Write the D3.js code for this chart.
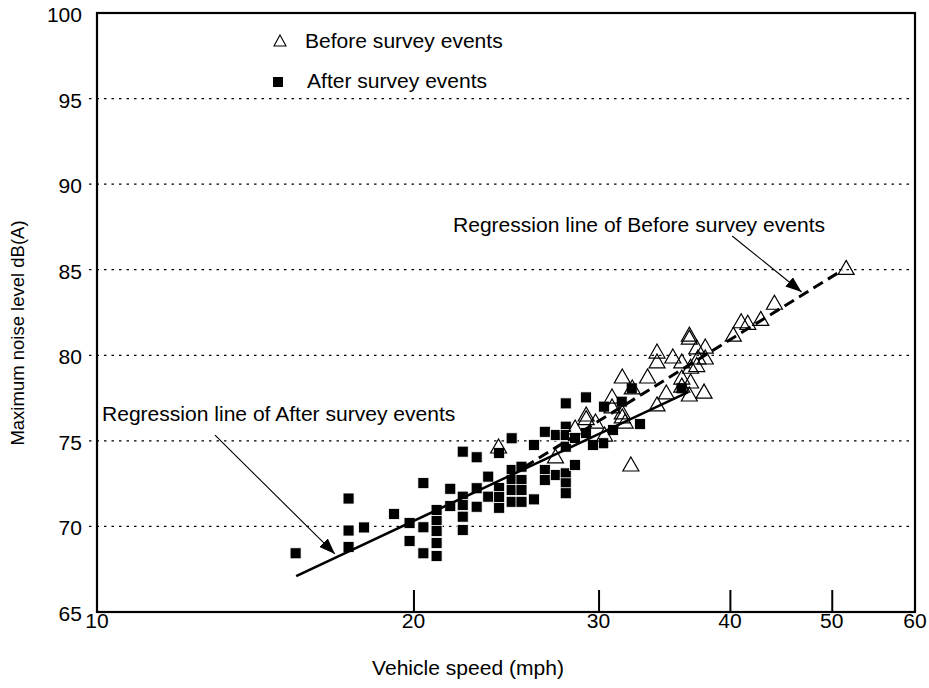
<!DOCTYPE html>
<html><head><meta charset="utf-8">
<script src="https://cdn.jsdelivr.net/npm/d3@7"></script>
<style>body{margin:0;background:#fff}svg{display:block}</style>
</head><body><svg id="c" width="929" height="688"></svg>
<script>
// ---- data ----
const xTicks = [10, 20, 30, 40, 50, 60];
const yTicks = [65, 70, 75, 80, 85, 90, 95, 100];
const gridLevels = [70, 75, 80, 85, 90, 95];

const beforeSpeed = [24.1, 32.2, 27.3, 29.2, 29.2, 29.8, 28.5, 30.4, 30.9, 30.9, 31.6, 31.6, 31.8, 31.6, 32.3, 33.4, 34.1, 34.1, 35.3, 34.8, 34.1, 36.0, 36.0, 36.6, 36.6, 37.2, 37.9, 37.3, 37.9, 36.7, 37.2, 36.7, 36.6, 37.8, 40.3, 41.0, 41.6, 42.8, 44.1, 51.6, 36.0];
const beforeLevel = [74.64, 73.59, 74.06, 76.51, 76.3, 76.1, 75.75, 75.34, 77.56, 76.98, 76.63, 76.4, 76.1, 78.73, 78.09, 78.73, 80.19, 79.61, 79.9, 77.8, 77.1, 79.61, 78.67, 81.18, 81.0, 80.43, 80.48, 79.84, 79.84, 79.3, 79.4, 78.44, 77.68, 77.85, 81.18, 81.96, 81.87, 82.1, 83.04, 85.08, 78.2];

const afterSpeed = [15.45, 17.35, 17.35, 17.35, 17.95, 19.17, 19.83, 19.83, 20.44, 20.44, 20.44, 21.04, 21.04, 21.04, 21.04, 21.04, 21.68, 21.68, 22.28, 22.97, 22.28, 22.28, 22.28, 22.28, 22.97, 22.97, 23.56, 23.56, 24.13, 24.13, 24.13, 24.13, 24.8, 24.8, 24.8, 24.8, 24.8, 25.34, 25.34, 25.34, 25.34, 26.04, 26.04, 26.67, 26.67, 26.67, 27.32, 27.32, 27.92, 27.92, 27.92, 27.92, 27.92, 27.92, 27.92, 28.49, 28.49, 29.18, 29.18, 30.36, 30.96, 31.56, 32.85, 30.31, 32.26, 35.98, 29.63];
const afterLevel = [68.43, 71.63, 69.76, 68.8, 69.94, 70.73, 70.2, 69.15, 72.53, 69.95, 68.43, 70.96, 70.32, 69.73, 69.03, 68.27, 72.2, 71.19, 74.37, 74.04, 71.74, 71.25, 70.57, 69.79, 72.23, 71.15, 72.91, 71.74, 71.09, 72.24, 71.72, 74.29, 75.15, 73.3, 72.71, 72.13, 71.44, 73.49, 72.71, 72.13, 71.44, 74.76, 71.58, 75.53, 73.3, 72.71, 75.34, 73.0, 77.19, 75.83, 75.34, 74.66, 73.1, 72.52, 71.94, 73.59, 75.17, 77.54, 75.46, 77.0, 75.63, 77.29, 75.98, 74.86, 78.07, 78.07, 74.76];

const beforeRegSpeed = [25.5, 51.2];
const beforeRegLevel = [73.47, 84.98];
const afterRegSpeed = [15.47, 36.5];
const afterRegLevel = [67.1, 77.85];

// annotation arrows [from, to] in data units
const beforeArrowSpeed = [40.2, 46.8];
const beforeArrowLevel = [86.97, 83.7];
const afterArrowSpeed = [12.95, 16.84];
const afterArrowLevel = [75.34, 68.39];

const labels = {
  legendBefore: "Before survey events",
  legendAfter: "After survey events",
  regBefore: "Regression line of Before survey events",
  regAfter: "Regression line of After survey events",
  xTitle: "Vehicle speed (mph)",
  yTitle: "Maximum noise level dB(A)"
};

// ---- drawing ----
const FONT = "'Liberation Sans', Arial, sans-serif";
const FS = 19.5, SX = 1.08;
const svg = d3.select("#c");
const L = 97, R = 915, T = 13, B = 612;
const x = d3.scaleLog().domain([10, 60]).range([L, R]);
const y = d3.scaleLinear().domain([65, 100]).range([B, T]);

svg.append("rect").attr("width", 929).attr("height", 688).attr("fill", "#fff");

const txt = (tx, ty, s, anchor = "start") => svg.append("text")
  .attr("transform", `translate(${tx},${ty}) scale(${SX},1)`)
  .attr("font-family", FONT).attr("font-size", FS).attr("text-anchor", anchor)
  .attr("fill", "#000").text(s);

// gridlines (dotted)
svg.append("g").selectAll("line").data(gridLevels).join("line")
  .attr("x1", L - 8).attr("x2", R)
  .attr("y1", d => y(d)).attr("y2", d => y(d))
  .attr("stroke", "#000").attr("stroke-width", 1.2)
  .attr("stroke-dasharray", "2.5,5");

// y tick labels
yTicks.forEach(v => txt(82, y(v) + 9, v, "end"));

// x axis: inward ticks + labels
const xAxis = d3.axisTop(x).tickValues(xTicks.filter(d => d > 10 && d < 60)).tickSize(22).tickFormat("");
const gx = svg.append("g").attr("transform", `translate(0,${B})`).call(xAxis);
gx.select(".domain").remove();
gx.selectAll("line").attr("stroke", "#000").attr("stroke-width", 2);
xTicks.forEach(v => txt(x(v), B + 16, v, "middle"));

// frame
svg.append("rect").attr("x", L).attr("y", T).attr("width", R - L).attr("height", B - T)
  .attr("fill", "none").attr("stroke", "#000").attr("stroke-width", 2.2);

// markers
const tri = "M0,-8L8,6L-8,6Z";
const triSmall = "M0,-6L6,5L-6,5Z";
const pts = (sp, lv) => sp.map((s, i) => ({s, l: lv[i]}));

svg.append("g").selectAll("rect").data(pts(afterSpeed, afterLevel)).join("rect")
  .attr("x", d => x(d.s) - 5.5).attr("y", d => y(d.l) - 5.5)
  .attr("width", 11).attr("height", 11)
  .attr("fill", "#000").attr("stroke", "#fff").attr("stroke-width", 0.8);

svg.append("g").selectAll("path").data(pts(beforeSpeed, beforeLevel)).join("path")
  .attr("d", tri).attr("transform", d => `translate(${x(d.s)},${y(d.l)})`)
  .attr("fill", "none").attr("stroke", "#000").attr("stroke-width", 1.2);

// regression lines
const line = d3.line().x(d => x(d.s)).y(d => y(d.l));
svg.append("path").datum(pts(beforeRegSpeed, beforeRegLevel)).attr("d", line)
  .attr("fill", "none").attr("stroke", "#000").attr("stroke-width", 3)
  .attr("stroke-dasharray", "11,6");
svg.append("path").datum(pts(afterRegSpeed, afterRegLevel)).attr("d", line)
  .attr("fill", "none").attr("stroke", "#000").attr("stroke-width", 2.6);

// arrows
svg.append("defs").append("marker").attr("id", "ah")
  .attr("viewBox", "0 0 16 12").attr("refX", 16).attr("refY", 6)
  .attr("markerWidth", 16).attr("markerHeight", 12).attr("markerUnits", "userSpaceOnUse")
  .attr("orient", "auto")
  .append("path").attr("d", "M0,0L16,6L0,12Z").attr("fill", "#000");
[[beforeArrowSpeed, beforeArrowLevel], [afterArrowSpeed, afterArrowLevel]].forEach(([sp, lv]) => {
  svg.append("path").datum(pts(sp, lv)).attr("d", line)
    .attr("stroke", "#000").attr("stroke-width", 1.1).attr("fill", "none")
    .attr("marker-end", "url(#ah)");
});

// annotation texts
txt(453, 232, labels.regBefore);
txt(102, 421, labels.regAfter);

// legend
svg.append("path").attr("d", triSmall).attr("transform", "translate(280,41)")
  .attr("fill", "none").attr("stroke", "#000").attr("stroke-width", 1.1);
svg.append("rect").attr("x", 273).attr("y", 77).attr("width", 10).attr("height", 10).attr("fill", "#000");
txt(305, 48, labels.legendBefore);
txt(307, 88, labels.legendAfter);

// axis titles
txt(468, 675, labels.xTitle, "middle");
svg.append("text").attr("transform", "translate(24,333) rotate(-90)")
  .attr("text-anchor", "middle").attr("font-family", FONT).attr("font-size", 18.5)
  .text(labels.yTitle);
</script></body></html>
